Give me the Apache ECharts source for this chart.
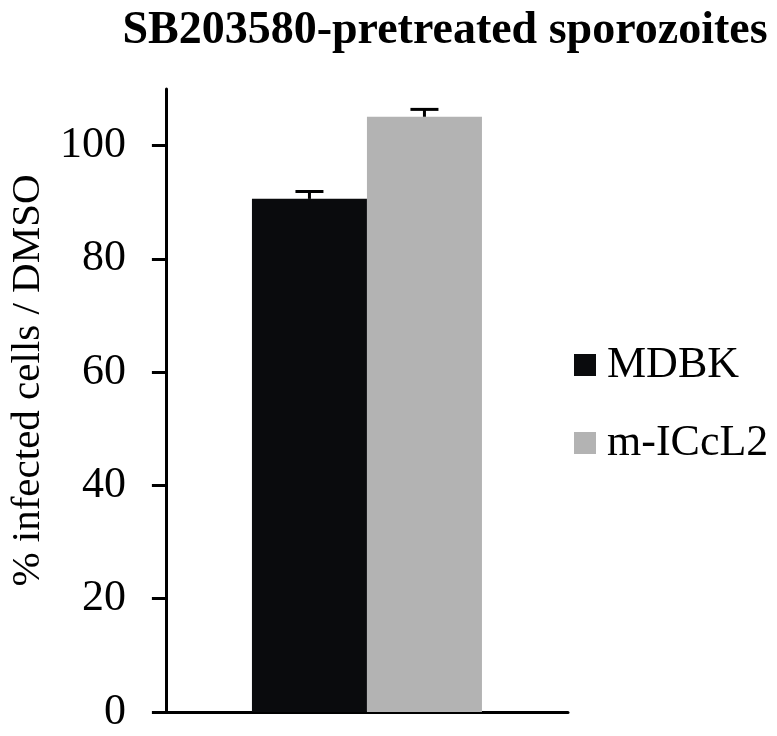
<!DOCTYPE html>
<html>
<head>
<meta charset="utf-8">
<script src="https://cdn.jsdelivr.net/npm/echarts@6/dist/echarts.min.js"></script>
<style>html,body{margin:0;padding:0;background:#fff}#c{width:777px;height:736px}</style>
</head>
<body>
<div id="c"></div>
<script>
var categories = ['SB203580'];
var seriesNames = ['MDBK', 'm-ICcL2'];
var mdbkValues = [90.6];
var mdbkErrors = [1.3];
var iccValues = [105.1];
var iccErrors = [1.3];
var yTicks = [0, 20, 40, 60, 80, 100];
var titleText = 'SB203580-pretreated sporozoites';
var yName = '% infected cells / DMSO';

var FONT = '"Liberation Serif", "Times New Roman", serif';
var chart = echarts.init(document.getElementById('c'), null, {renderer: 'canvas'});

function errData(vals, errs) {
  return vals.map(function (v, i) { return [i, v, errs[i]]; });
}
function errRender(offset) {
  return function (params, api) {
    var x = api.value(0), v = api.value(1), e = api.value(2);
    var top = api.coord([x, v + e]);
    var base = api.coord([x, v]);
    var cx = top[0] + offset;
    var style = {stroke: '#000', lineWidth: 3};
    return {
      type: 'group',
      children: [
        {type: 'line', shape: {x1: cx, y1: base[1], x2: cx, y2: top[1]}, style: style},
        {type: 'line', shape: {x1: cx - 14, y1: top[1], x2: cx + 14, y2: top[1]}, style: style}
      ]
    };
  };
}

chart.setOption({
  animation: false,
  backgroundColor: '#fff',
  title: {
    text: titleText,
    left: 440,
    textAlign: 'center',
    top: 3,
    textStyle: {fontFamily: FONT, fontWeight: 'bold', fontSize: 46, color: '#000'}
  },
  legend: {
    data: seriesNames,
    orient: 'vertical',
    left: 569,
    top: 332,
    icon: 'rect',
    itemWidth: 22,
    itemHeight: 22,
    itemGap: 22,
    textStyle: {fontFamily: FONT, fontSize: 44, color: '#000', lineHeight: 44, padding: [12, 0, 0, 6]}
  },
  grid: {left: 160, right: 209, top: 89, bottom: 24, containLabel: false},
  xAxis: {
    type: 'category',
    data: categories,
    axisLine: {lineStyle: {color: '#000', width: 3}},
    axisTick: {show: false},
    axisLabel: {show: false}
  },
  yAxis: {
    type: 'value',
    min: 0,
    max: 110,
    interval: 20,
    name: yName,
    nameLocation: 'middle',
    nameGap: 110,
    nameTextStyle: {fontFamily: FONT, fontSize: 41, color: '#000', padding: [0, 0, 0, 40]},
    axisLine: {show: true, lineStyle: {color: '#000', width: 3}},
    axisTick: {show: true, length: 14, customValues: yTicks, lineStyle: {color: '#000', width: 3}},
    axisLabel: {customValues: yTicks, margin: 40, fontFamily: FONT, fontSize: 44, color: '#000'},
    splitLine: {show: false}
  },
  series: [
    {name: seriesNames[0], type: 'bar', data: mdbkValues, barWidth: 115, barGap: '0%', itemStyle: {color: '#0a0b0d'}, z: 2},
    {name: seriesNames[1], type: 'bar', data: iccValues, barWidth: 115, barGap: '0%', itemStyle: {color: '#b3b3b3'}, z: 2},
    {type: 'custom', data: errData(mdbkValues, mdbkErrors), renderItem: errRender(-57.5), z: 3, silent: true},
    {type: 'custom', data: errData(iccValues, iccErrors), renderItem: errRender(57.5), z: 3, silent: true}
  ]
});
</script>
</body>
</html>
